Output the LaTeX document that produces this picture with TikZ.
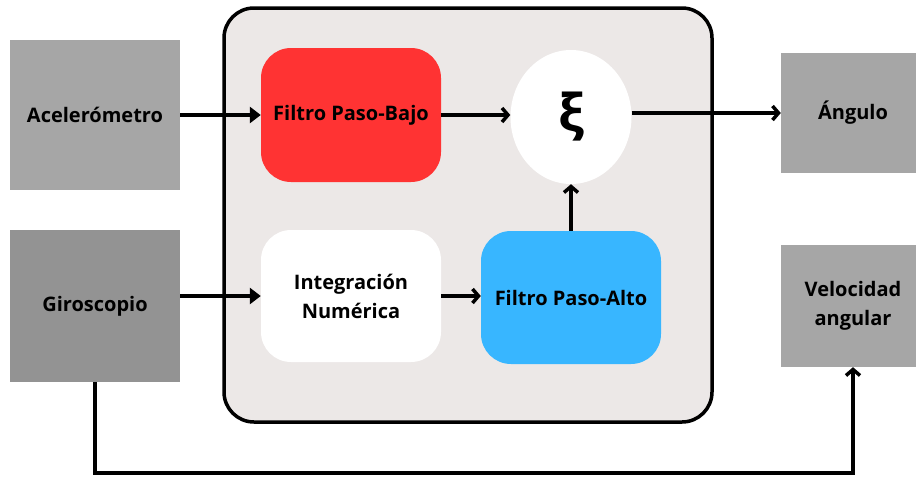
\documentclass[tikz,border=0pt]{standalone}
\usepackage{fontspec}
\setmainfont{Open Sans}
\usetikzlibrary{arrows.meta,shapes.geometric}
\definecolor{sensorgray}{HTML}{A6A6A6}
\definecolor{gyrogray}{HTML}{939393}
\definecolor{panelfill}{HTML}{ECE8E7}
\definecolor{lowred}{HTML}{FF3333}
\definecolor{highblue}{HTML}{38B6FF}
\tikzset{
  sensorbox/.style={rectangle, fill=sensorgray, inner sep=0pt, align=center},
  filterbox/.style={rectangle, rounded corners=30pt, inner sep=0pt, align=center,
    minimum width=180pt, minimum height=133pt},
  conn/.style={line width=3.5pt},
  intip/.style={conn, -{Triangle[length=11pt,width=16pt]}},
  bartip/.style={conn, -{Straight Barb[length=6pt,width=14pt]}},
}
\begin{document}
\begin{tikzpicture}[x=1pt,y=-1pt,font=\fontsize{20}{29}\selectfont\bfseries]
\clip (0,0) rectangle (916,477);
\fill[white] (0,0) rectangle (916,477);
% container
\node[rectangle, draw=black, line width=3.5pt, fill=panelfill, rounded corners=30pt,
  minimum width=488pt, minimum height=414pt, inner sep=0pt] (panel) at (468,215) {};
% sensors and outputs
\node[sensorbox, minimum width=170pt, minimum height=150pt] (acc) at (95,115) {Acelerómetro};
\node[sensorbox, fill=gyrogray, minimum width=170pt, minimum height=152pt] (gyro) at (95,306) {Giroscopio};
\node[sensorbox, minimum width=144pt, minimum height=120pt] (ang) at (853,113) {Ángulo};
\node[sensorbox, minimum width=144pt, minimum height=122pt] (vel) at (853,306) {Velocidad\\angular};
% inner blocks
\node[filterbox, fill=lowred, minimum height=134pt] (low) at (351,115) {Filtro Paso-Bajo};
\node[filterbox, fill=white, minimum height=132pt] (integ) at (351,296) {Integración\\Numérica};
\node[filterbox, fill=highblue] (high) at (571,297.5) {Filtro Paso-Alto};
\node[ellipse, fill=white, minimum width=121pt, minimum height=134pt, inner sep=0pt,
  font=\fontsize{52}{52}\selectfont\bfseries] (xi) at (571,117) {ξ};
% connectors
\draw[intip] (acc.east) -- (low.west);
\draw[intip] (integ.west -| gyro.east) -- (integ.west);
\draw[bartip] (low.east) -- (low.east -| xi.west);
\draw[bartip] (integ.east) -- (integ.east -| high.west);
\draw[bartip] (high.north) -- (xi.south);
\draw[bartip] (xi.east |- ang.west) -- (ang.west);
\coordinate (bl) at (95,473);
\draw[bartip] (gyro.south) -- (bl) -| (vel.south);
\end{tikzpicture}
\end{document}
